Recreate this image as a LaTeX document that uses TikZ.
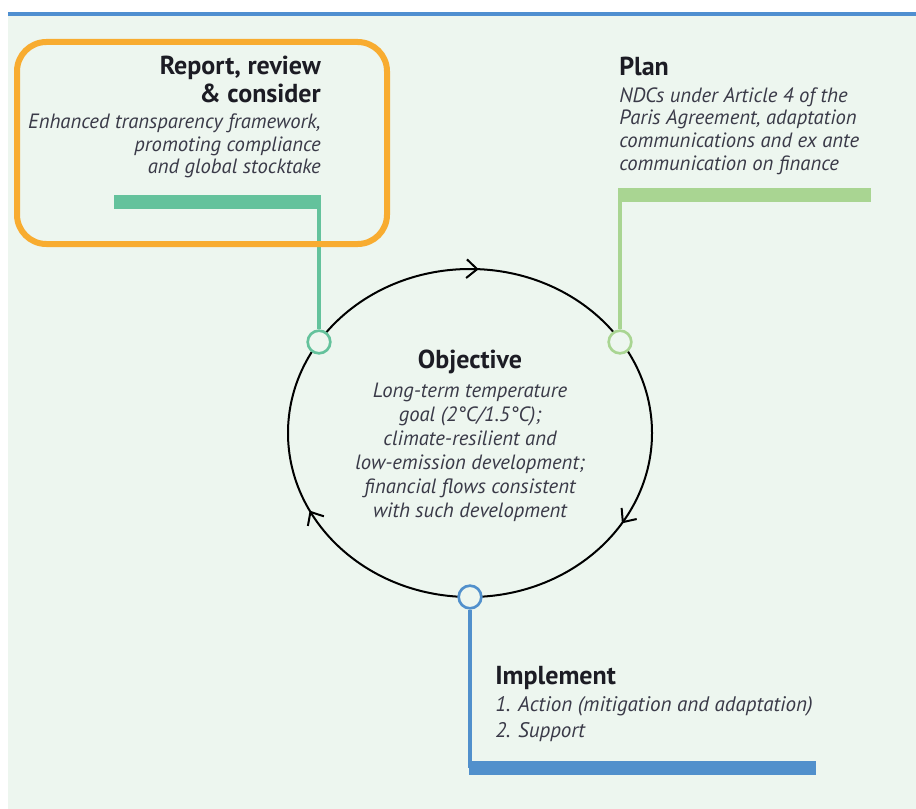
\documentclass[tikz,border=0pt]{standalone}
\usepackage{fontspec}
\setmainfont{PT Sans}
\usepackage{tikz}
\usetikzlibrary{arrows.meta}
\usetikzlibrary{decorations.markings}
\usetikzlibrary{positioning}
\definecolor{mbg}{HTML}{EDF6EF}
\definecolor{mtop}{HTML}{4F8FD0}
\definecolor{morange}{HTML}{F8AC30}
\definecolor{mreport}{HTML}{64C29C}
\definecolor{mplan}{HTML}{A9D592}
\definecolor{mimpl}{HTML}{5190CC}
\definecolor{mtext}{HTML}{1C1C24}
\definecolor{mitalic}{HTML}{3A3A48}
\tikzset{cycle/.style = {decoration={markings,
                                     mark=at position 0.242 with {\arrowreversed{Straight Barb[length=8pt,width=14pt]}},
                                     mark=at position 0.575 with {\arrowreversed{Straight Barb[length=8pt,width=14pt]}},
                                     mark=at position 0.911 with {\arrowreversed{Straight Barb[length=8pt,width=14pt]}}},
                         postaction={decorate}}}
\tikzset{heading/.style = {inner sep=0pt, text=mtext, font=\bfseries\fontsize{19.5}{20.5}\selectfont},
         blurb/.style = {inner sep=0pt, text=mitalic, font=\itshape\fontsize{15.5}{17}\selectfont},
         dot/.style = {circle, minimum size=17pt, inner sep=0pt, line width=2pt, fill=mbg},
         stem/.style = {line width=2.4pt},
         bar/.style = {line width=10.5pt}}

\begin{document}
\begin{tikzpicture}[x=0.75pt, y=-0.75pt]
    \useasboundingbox (0, 0) rectangle (916, 809);
    \fill [mbg] (8, 16) rectangle (916, 809);
    \draw [mtop, line width=3pt] (8, 14) -- (916, 14);

    \draw [cycle, line width=1.5pt] (470, 433) ellipse [x radius=136.5pt, y radius=123pt];

    % report, review and consider
    \coordinate (reportleft) at (114, 202);
    \coordinate (reportright) at (321, 202);
    \coordinate (reportknee) at (319, 202);
    \node [dot, draw=mreport] (reportdot) at (319, 342) {};
    \draw [bar, mreport] (reportleft) -- (reportright);
    \draw [stem, mreport] (reportknee) -- (reportdot);
    \node [heading, anchor=north east, align=right] (reporthead) at (321, 56) {Report, review\\\& consider};
    \node [blurb, below=8pt of reporthead.south east, anchor=north east, align=right] (reporttext)
      {Enhanced transparency framework,\\promoting compliance\\and global stocktake};

    % plan
    \coordinate (planleft) at (618, 195);
    \coordinate (planright) at (871, 195);
    \coordinate (planknee) at (620, 195);
    \node [dot, draw=mplan] (plandot) at (620, 342) {};
    \draw [bar, mplan] (planleft) -- (planright);
    \draw [stem, mplan] (planknee) -- (plandot);
    \node [heading, anchor=north west] (planhead) at (619, 57) {Plan};
    \node [blurb, below=8pt of planhead.south west, anchor=north west, align=left] (plantext)
      {NDCs under Article 4 of the\\Paris Agreement, adaptation\\communications and ex ante\\communication on finance};

    % objective
    \node [heading, anchor=north] (objhead) at (470, 350) {Objective};
    \node [blurb, font=\itshape\fontsize{15.5}{18}\selectfont, below=6pt of objhead.south, anchor=north, align=center] (objtext)
      {Long-term temperature\\goal (2°C/1.5°C);\\climate-resilient and\\low-emission development;\\financial flows consistent\\with such development};

    % implement
    \coordinate (implleft) at (469, 768);
    \coordinate (implright) at (816, 768);
    \coordinate (implknee) at (470, 768);
    \node [dot, draw=mimpl] (impldot) at (470, 597) {};
    \draw [bar, mimpl] (implleft) -- (implright);
    \draw [stem, mimpl] (impldot) -- (implknee);
    \node [heading, anchor=north west] (implhead) at (495, 666) {Implement};
    \node [blurb, font=\itshape\fontsize{15.8}{19}\selectfont, below=5pt of implhead.south west, anchor=north west, align=left] (impltext)
      {1. Action (mitigation and adaptation)\\2. Support};

    \draw [morange, line width=4.5pt, rounded corners=22pt] (17, 42) rectangle (387, 244);
\end{tikzpicture}
\end{document}
